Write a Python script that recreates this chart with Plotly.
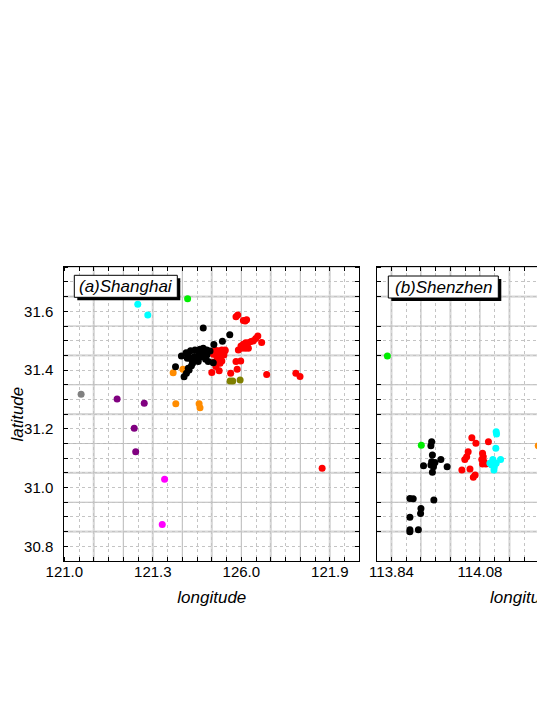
import numpy as np
import plotly.graph_objects as go

# window is 545x705, the page body adds an 8px margin all round;
# keep the page a little shorter than the window so no scrollbar appears
SCREEN_W, SCREEN_H = 545, 705
OFF = 8
W, H = SCREEN_W - OFF, 670

# ---- Shanghai points (lon, lat) by colour group ----
sh_black_lon = [121.471, 121.561, 121.536, 121.507, 121.377, 121.406, 121.414, 121.423, 121.431,
                121.397, 121.413, 121.428, 121.443, 121.460, 121.471, 121.483, 121.457, 121.468,
                121.483, 121.460, 121.479, 121.454, 121.488, 121.505, 121.441, 121.424, 121.432,
                121.445, 121.471, 121.417, 121.420, 121.435, 121.494]
sh_black_lat = [31.543, 31.520, 31.498, 31.487, 31.411, 31.377, 31.389, 31.400, 31.415,
                31.448, 31.459, 31.466, 31.468, 31.471, 31.474, 31.468, 31.457, 31.455,
                31.451, 31.444, 31.437, 31.429, 31.429, 31.425, 31.446, 31.444, 31.434,
                31.437, 31.446, 31.440, 31.406, 31.423, 31.465]
sh_red_lon = [121.582, 121.588, 121.607, 121.618, 121.613, 121.656, 121.649, 121.669, 121.641,
              121.633, 121.624, 121.615, 121.607, 121.599, 121.590, 121.613, 121.624, 121.601,
              121.582, 121.598, 121.586, 121.564, 121.686, 121.785, 121.799, 121.874, 121.500,
              121.525, 121.514, 121.497, 121.511, 121.522, 121.534, 121.545, 121.505, 121.517,
              121.528, 121.539, 121.517, 121.530, 121.541, 121.522, 121.534, 121.528, 121.505,
              121.545]
sh_red_lat = [31.582, 31.588, 31.569, 31.571, 31.567, 31.516, 31.508, 31.494, 31.500,
              31.497, 31.493, 31.493, 31.488, 31.482, 31.468, 31.474, 31.474, 31.474,
              31.429, 31.431, 31.403, 31.389, 31.385, 31.389, 31.378, 31.066, 31.392,
              31.398, 31.412, 31.463, 31.468, 31.466, 31.468, 31.468, 31.454, 31.457,
              31.457, 31.457, 31.446, 31.446, 31.451, 31.434, 31.431, 31.423, 31.427,
              31.466]
sh_cyan_lon = [121.249, 121.283]
sh_cyan_lat = [31.624, 31.588]
sh_green_lon = [121.418]
sh_green_lat = [31.643]
sh_gray_lon = [121.057]
sh_gray_lat = [31.318]
sh_purple_lon = [121.179, 121.271, 121.237, 121.242]
sh_purple_lat = [31.302, 31.287, 31.202, 31.122]
sh_magenta_lon = [121.340, 121.332]
sh_magenta_lat = [31.028, 30.874]
sh_orange_lon = [121.369, 121.402, 121.378, 121.457, 121.460]
sh_orange_lat = [31.391, 31.403, 31.285, 31.285, 31.272]
sh_olive_lon = [121.562, 121.571, 121.596]
sh_olive_lat = [31.363, 31.363, 31.366]

# ---- Shenzhen points ----
sz_black_lon = [113.949, 113.947, 113.951, 113.949, 113.954, 113.958, 113.947, 113.954, 113.927,
                113.974, 113.991, 113.951, 113.890, 113.899, 113.955, 113.920, 113.919, 113.890,
                113.890, 113.890, 113.913]
sz_black_lat = [31.156, 31.142, 31.111, 31.088, 31.080, 31.085, 31.077, 31.071, 31.074,
                31.096, 31.071, 31.052, 30.963, 30.962, 30.958, 30.929, 30.912, 30.899,
                30.856, 30.850, 30.856]
sz_red_lon = [114.058, 114.069, 114.103, 114.048, 114.044, 114.039, 114.087, 114.089, 114.085,
              114.091, 114.087, 114.096, 114.031, 114.053, 114.067, 114.062]
sz_red_lat = [31.170, 31.151, 31.156, 31.122, 31.105, 31.096, 31.117, 31.105, 31.096,
              31.088, 31.080, 31.080, 31.060, 31.063, 31.043, 31.035]
sz_cyan_lon = [114.124, 114.125, 114.123, 114.107, 114.116, 114.124, 114.112, 114.119, 114.118,
               114.136, 114.115]
sz_cyan_lat = [31.190, 31.182, 31.134, 31.083, 31.088, 31.083, 31.077, 31.071, 31.060,
               31.096, 31.096]
sz_green_lon = [113.829, 113.921]
sz_green_lat = [31.448, 31.144]
sz_orange_lon = [114.238, 114.252]
sz_orange_lat = [31.142, 31.176]

# tick labels (as printed on the original)
sh_xtick_vals = [121.0, 121.3, 121.6, 121.9]
sh_xtick_text = ['121.0', '121.3', '126.0', '121.9']
sz_xtick_vals = [113.84, 114.08]
sz_xtick_text = ['113.84', '114.08']
lat_tick_vals = [30.8, 31.0, 31.2, 31.4, 31.6]

FONT = 'Arial, Liberation Sans, sans-serif'
colors = {'black': '#000000', 'red': '#ff0000', 'cyan': '#00ffff', 'green': '#00ee00',
          'gray': '#808080', 'purple': '#800080', 'magenta': '#ff00ff',
          'orange': '#ff8c00', 'olive': '#808000'}


# screen pixel -> paper fraction
def px_x(p):
    return (p - OFF) / W


def px_y(p):
    return 1 - (p - OFF) / H


fig = go.Figure()


def add_group(lon, lat, color, xa, ya):
    fig.add_trace(go.Scatter(x=lon, y=lat, mode='markers', xaxis=xa, yaxis=ya,
                             marker=dict(color=colors[color], size=7, line=dict(width=0)),
                             showlegend=False, hoverinfo='skip'))


sh_groups = [(sh_gray_lon, sh_gray_lat, 'gray'), (sh_cyan_lon, sh_cyan_lat, 'cyan'),
             (sh_green_lon, sh_green_lat, 'green'), (sh_purple_lon, sh_purple_lat, 'purple'),
             (sh_magenta_lon, sh_magenta_lat, 'magenta'), (sh_orange_lon, sh_orange_lat, 'orange'),
             (sh_red_lon, sh_red_lat, 'red'), (sh_black_lon, sh_black_lat, 'black'),
             (sh_olive_lon, sh_olive_lat, 'olive')]
for lon, lat, c in sh_groups:
    add_group(lon, lat, c, 'x', 'y')

sz_groups = [(sz_black_lon, sz_black_lat, 'black'), (sz_red_lon, sz_red_lat, 'red'),
             (sz_cyan_lon, sz_cyan_lat, 'cyan'), (sz_green_lon, sz_green_lat, 'green'),
             (sz_orange_lon, sz_orange_lat, 'orange')]
for lon, lat, c in sz_groups:
    add_group(lon, lat, c, 'x2', 'y2')

# plot areas in screen pixels
a_left, a_right = 64.3, 359.3
b_left = 376.7
p_top, p_bot = 267.3, 561.0
y_range = [30.75, 31.75]
a_xrange = [121.0, 122.0]
b_xrange = [113.80, 113.80 + (SCREEN_W - b_left) / (a_right - a_left) * 0.8]

tick_font = dict(family=FONT, size=15, color='black')
title_font = dict(family=FONT, size=17, color='black')
minor_grid = dict(ticks='inside', ticklen=4, tickcolor='black', showgrid=True,
                  gridcolor='#c4c4c4', griddash='3px,3px', gridwidth=0.7)

fig.update_layout(
    width=W, height=H,
    margin=dict(l=0, r=0, t=0, b=0),
    paper_bgcolor='white', plot_bgcolor='white',
    showlegend=False,
    xaxis=dict(domain=[px_x(a_left), px_x(a_right)], range=a_xrange, anchor='y',
               tickmode='array', tickvals=sh_xtick_vals, ticktext=sh_xtick_text,
               ticks='', showgrid=False, zeroline=False, tickfont=tick_font,
               ticklabelstandoff=-3,
               showline=True, linecolor='black', linewidth=1, mirror='allticks',
               minor=dict(dtick=0.05, tick0=121.0, **minor_grid),
               title=dict(text='<i>longitude</i>', font=title_font, standoff=12),
               automargin=False),
    yaxis=dict(domain=[px_y(p_bot), px_y(p_top)], range=y_range, anchor='x',
               tickmode='array', tickvals=lat_tick_vals, tickformat='.1f',
               ticks='', showgrid=False, zeroline=False, tickfont=tick_font,
               ticklabelstandoff=7,
               showline=True, linecolor='black', linewidth=1, mirror='allticks',
               minor=dict(dtick=0.05, tick0=30.75, **minor_grid),
               title=dict(text='<i>latitude</i>', font=title_font, standoff=3),
               automargin=False),
    xaxis2=dict(domain=[px_x(b_left), 1.0], range=b_xrange, anchor='y2',
                tickmode='array', tickvals=sz_xtick_vals, ticktext=sz_xtick_text,
                ticks='', showgrid=False, zeroline=False, tickfont=tick_font,
                ticklabelstandoff=-3,
                showline=True, linecolor='black', linewidth=1, mirror='allticks',
                minor=dict(dtick=0.04, tick0=113.80, **minor_grid),
                automargin=False),
    yaxis2=dict(domain=[px_y(p_bot), px_y(p_top)], range=y_range, anchor='x2',
                showticklabels=False, ticks='', showgrid=False, zeroline=False,
                showline=True, linecolor='black', linewidth=1, mirror=False,
                minor=dict(dtick=0.05, tick0=30.75, **minor_grid),
                automargin=False),
)

# solid grid lines: wide light ones and thin darker ones
shapes = []


def vlines(vals, xref, yref, color, width):
    for v in vals:
        shapes.append(dict(type='line', xref=xref, yref=yref + ' domain', x0=v, x1=v, y0=0, y1=1,
                           line=dict(color=color, width=width), layer='below'))


def hlines(vals, xref, yref, color, width):
    for v in vals:
        shapes.append(dict(type='line', xref=xref + ' domain', yref=yref, x0=0, x1=1, y0=v, y1=v,
                           line=dict(color=color, width=width), layer='below'))


thick_c, thin_c = '#d8d8d8', '#b0b0b0'
lat_thick = np.arange(30.85, 31.75, 0.2)
lat_thin = np.arange(30.95, 31.75, 0.2)
vlines(np.arange(121.1, 122.0, 0.2), 'x', 'y', thick_c, 2.2)
vlines(np.arange(121.2, 122.0, 0.2), 'x', 'y', thin_c, 0.9)
hlines(lat_thick, 'x', 'y', thick_c, 2.2)
hlines(lat_thin, 'x', 'y', thin_c, 0.9)
vlines(np.arange(113.84, 114.3, 0.16), 'x2', 'y2', thick_c, 2.2)
vlines(np.arange(113.92, 114.3, 0.16), 'x2', 'y2', thin_c, 0.9)
hlines(lat_thick, 'x2', 'y2', thick_c, 2.2)
hlines(lat_thin, 'x2', 'y2', thin_c, 0.9)


# panel label boxes with drop shadow
def label_box(x0, x1, y0, y1, text):
    shapes.append(dict(type='rect', xref='paper', yref='paper',
                       x0=px_x(x0 + 3), x1=px_x(x1 + 3), y0=px_y(y1 + 3), y1=px_y(y0 + 3),
                       fillcolor='black', line=dict(width=0), layer='above'))
    shapes.append(dict(type='rect', xref='paper', yref='paper',
                       x0=px_x(x0), x1=px_x(x1), y0=px_y(y1), y1=px_y(y0),
                       fillcolor='white', line=dict(color='black', width=1), layer='above'))
    fig.add_annotation(x=px_x((x0 + x1) / 2), y=px_y((y0 + y1) / 2), xref='paper', yref='paper',
                       text='<i>' + text + '</i>', showarrow=False,
                       font=dict(family=FONT, size=17, color='black'),
                       xanchor='center', yanchor='middle')


label_box(74.3, 177.3, 275.3, 297.3, '(a)Shanghai')
label_box(388.3, 498.3, 276.0, 298.0, '(b)Shenzhen')

# second panel's axis title (that panel runs past the window edge)
fig.add_annotation(x=px_x(b_left + (a_right - a_left) / 2), y=px_y(597), xref='paper', yref='paper',
                   text='<i>longitude</i>', showarrow=False, font=title_font,
                   xanchor='center', yanchor='middle')

fig.update_layout(shapes=shapes)

fig.write_html("out.html")
